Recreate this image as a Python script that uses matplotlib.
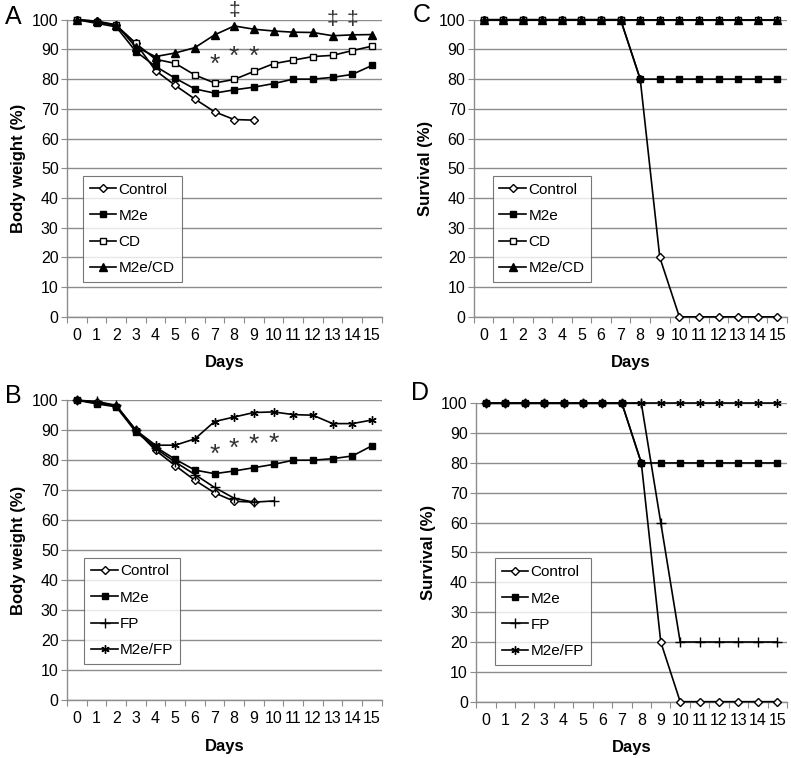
import matplotlib
matplotlib.use("Agg")
import matplotlib.pyplot as plt
from matplotlib.ticker import FixedLocator, NullFormatter, FixedFormatter

plt.rcParams['font.family'] = ['Liberation Sans', 'DejaVu Sans']

days = list(range(16))
day_labels = [str(d) for d in days]

# Panel A: body weight (%)
a_control = [100, 99.5, 98.1, 92.0, 82.9, 77.9, 73.3, 69.0, 66.4, 66.2]
a_m2e = [100, 98.8, 97.6, 89.3, 84.3, 80.3, 76.7, 75.3, 76.4, 77.3, 78.5, 80.0, 80.0, 80.6, 81.6, 84.6]
a_cd = [100, 99.2, 98.1, 92.0, 86.7, 85.3, 81.4, 78.7, 79.9, 82.6, 85.2, 86.4, 87.6, 88.0, 89.6, 91.1]
a_m2ecd = [100, 99.5, 98.3, 90.8, 87.6, 88.8, 90.6, 94.9, 97.9, 96.8, 96.2, 95.8, 95.7, 94.6, 94.9, 95.0]
a_star_days = [7, 8, 9]
a_star_vals = [87.3, 90.1, 90.1]
a_dd_days = [8, 13, 14]
a_dd_vals = [103.0, 100.2, 100.2]

# Panel B: body weight (%)
b_control = [100, 99.3, 98.2, 90.0, 83.3, 78.2, 73.3, 69.1, 66.3, 66.0]
b_m2e = [100, 98.8, 97.8, 89.4, 84.4, 80.3, 76.7, 75.5, 76.4, 77.5, 78.6, 80.0, 80.0, 80.5, 81.4, 84.8]
b_fp = [100, 99.6, 98.3, 90.0, 83.9, 79.4, 75.2, 70.9, 67.3, 66.0, 66.4]
b_m2efp = [100, 99.2, 98.0, 90.0, 85.0, 85.0, 87.1, 92.9, 94.4, 95.9, 96.1, 95.2, 95.0, 92.2, 92.2, 93.4]
b_star_days = [7, 8, 9, 10]
b_star_vals = [84.4, 86.3, 87.8, 88.1]

# Panel C: survival (%)
c_control = [100, 100, 100, 100, 100, 100, 100, 100, 80, 20, 0, 0, 0, 0, 0, 0]
c_m2e = [100, 100, 100, 100, 100, 100, 100, 100, 80, 80, 80, 80, 80, 80, 80, 80]
c_cd = [100] * 16
c_m2ecd = [100] * 16

# Panel D: survival (%)
d_control = [100, 100, 100, 100, 100, 100, 100, 100, 80, 20, 0, 0, 0, 0, 0, 0]
d_m2e = [100, 100, 100, 100, 100, 100, 100, 100, 80, 80, 80, 80, 80, 80, 80, 80]
d_fp = [100, 100, 100, 100, 100, 100, 100, 100, 100, 60, 20, 20, 20, 20, 20, 20]
d_m2efp = [100] * 16

fig = plt.figure(figsize=(7.91, 7.58), dpi=100)

GRID = '#8c8c8c'
TICK_FS = 11.5
LAB_FS = 12
LEG_FS = 11

def style(ax, ylabel):
    ax.set_xlim(-0.5, 15.5)
    ax.set_ylim(0, 100)
    for s in ['top', 'right']:
        ax.spines[s].set_visible(False)
    for s in ['left', 'bottom']:
        ax.spines[s].set_color(GRID)
        ax.spines[s].set_linewidth(1)
    ax.set_yticks(range(0, 101, 10))
    ax.yaxis.grid(True, color=GRID, linewidth=1)
    ax.set_axisbelow(True)
    ax.xaxis.set_major_locator(FixedLocator([d - 0.5 for d in range(17)]))
    ax.xaxis.set_major_formatter(NullFormatter())
    ax.xaxis.set_minor_locator(FixedLocator(days))
    ax.xaxis.set_minor_formatter(FixedFormatter(day_labels))
    ax.tick_params(axis='x', which='major', length=4, color=GRID, direction='out')
    ax.tick_params(axis='x', which='minor', length=0, labelsize=TICK_FS, pad=8)
    ax.tick_params(axis='y', length=4, color=GRID, labelsize=TICK_FS, pad=2)
    ax.set_xlabel('Days', fontsize=LAB_FS, fontweight='bold', labelpad=9)
    ax.set_ylabel(ylabel, fontsize=LAB_FS, fontweight='bold', labelpad=4)

def plot_series(ax, y, marker, mfc, ms, label, mew=1.0):
    ax.plot(days[:len(y)], y, color='black', linewidth=1.2, marker=marker,
            markersize=ms, markerfacecolor=mfc, markeredgecolor='black',
            markeredgewidth=mew, label=label, clip_on=False, zorder=3)

def legend(ax, anchor):
    leg = ax.legend(loc='upper left', bbox_to_anchor=anchor, frameon=True,
                    fancybox=False, edgecolor='#555555', fontsize=LEG_FS,
                    labelspacing=0.8, handlelength=1.75, handletextpad=0.15,
                    borderpad=0.45, borderaxespad=0)
    leg.get_frame().set_linewidth(0.8)

STAR = (6, 2, 0)

axA = fig.add_axes([0.0847, 0.582, 0.398, 0.392])
plot_series(axA, a_control, 'D', 'white', 4, 'Control')
plot_series(axA, a_m2e, 's', 'black', 5, 'M2e')
plot_series(axA, a_cd, 's', 'white', 5, 'CD')
plot_series(axA, a_m2ecd, '^', 'black', 5.5, 'M2e/CD')
style(axA, 'Body weight (%)')
legend(axA, (0.05, 0.475))
for d, v in zip(a_star_days, a_star_vals):
    axA.text(d, v - 2.6, '*', fontsize=19, ha='center', va='center', color='#333333')
for d, v in zip(a_dd_days, a_dd_vals):
    axA.text(d, v, '\u2021', fontsize=15, ha='center', va='center', color='#333333')

axB = fig.add_axes([0.0847, 0.0765, 0.398, 0.3955])
plot_series(axB, b_control, 'D', 'white', 4, 'Control')
plot_series(axB, b_m2e, 's', 'black', 5, 'M2e')
plot_series(axB, b_fp, '+', 'black', 7, 'FP')
plot_series(axB, b_m2efp, STAR, 'black', 6, 'M2e/FP', mew=1.0)
style(axB, 'Body weight (%)')
legend(axB, (0.055, 0.475))
for d, v in zip(b_star_days, b_star_vals):
    axB.text(d, v - 2.6, '*', fontsize=19, ha='center', va='center', color='#333333')

axC = fig.add_axes([0.599, 0.582, 0.396, 0.392])
plot_series(axC, c_control, 'D', 'white', 4, 'Control')
plot_series(axC, c_m2e, 's', 'black', 5, 'M2e')
plot_series(axC, c_cd, 's', 'white', 5, 'CD')
plot_series(axC, c_m2ecd, '^', 'black', 5.5, 'M2e/CD')
style(axC, 'Survival (%)')
legend(axC, (0.06, 0.475))

axD = fig.add_axes([0.602, 0.0743, 0.393, 0.3937])
plot_series(axD, d_control, 'D', 'white', 4, 'Control')
plot_series(axD, d_m2e, 's', 'black', 5, 'M2e')
plot_series(axD, d_fp, '+', 'black', 7, 'FP')
plot_series(axD, d_m2efp, STAR, 'black', 6, 'M2e/FP')
style(axD, 'Survival (%)')
legend(axD, (0.06, 0.48))

fig.text(0.006, 0.977, 'A', fontsize=18, va='center', ha='left')
fig.text(0.006, 0.478, 'B', fontsize=18, va='center', ha='left')
fig.text(0.522, 0.98, 'C', fontsize=18, va='center', ha='left')
fig.text(0.520, 0.482, 'D', fontsize=18, va='center', ha='left')

fig.savefig('out.png', dpi=100)
